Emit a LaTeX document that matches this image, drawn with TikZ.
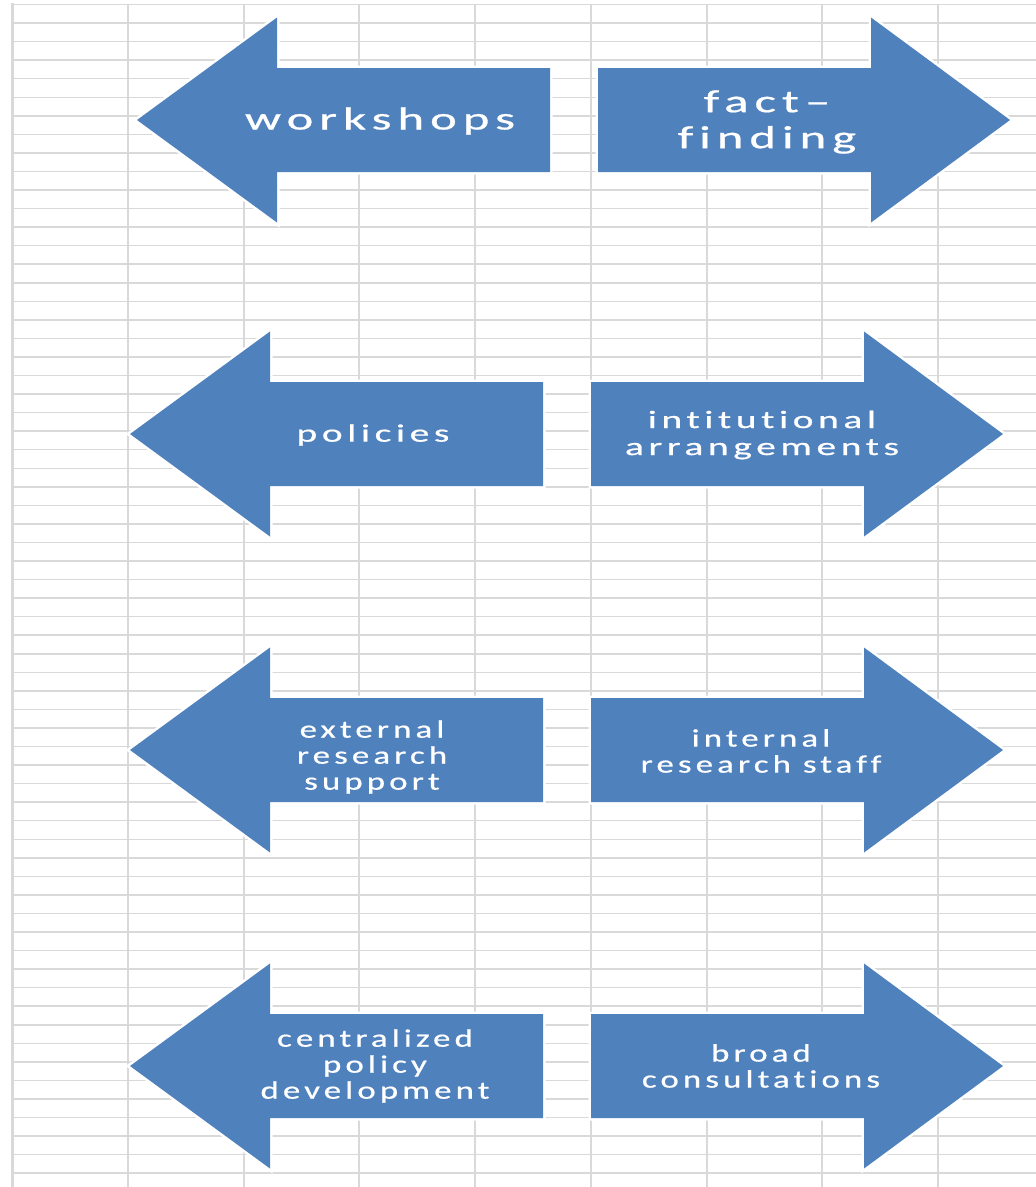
\documentclass[tikz,border=0pt]{standalone}
\usepackage{fontspec}
\newfontfamily\arrowfont[LetterSpace=12,FakeBold=0.6,Ligatures={NoCommon}]{Carlito}
\definecolor{arrowblue}{HTML}{4F81BD}
\definecolor{cellgrey}{HTML}{D9D9D9}

\begin{document}
\begin{tikzpicture}
  [
    x                   = 1pt,
    y                   = -1pt,
    gridline/.style     = {draw=cellgrey, line width=1.5pt},
    arrowbody/.style    = {fill=arrowblue, preaction={draw=white, line width=5pt}},
    label base/.style   = {text=white, align=center, transform shape},
    big label/.style    = {label base, xscale=1.58, font=\arrowfont\fontsize{32}{36}\selectfont},
    wide label/.style   = {label base, xscale=1.57, font=\arrowfont\fontsize{25}{27}\selectfont},
    narrow label/.style = {label base, xscale=1.39, font=\arrowfont\fontsize{25}{26}\selectfont}
  ]
  \useasboundingbox (0,0) rectangle (1036,1187);
  % spreadsheet cells behind the arrows
  \foreach \k in {0,...,63}
    \draw[gridline] (12,4.5+\k*18.55) -- (1036,4.5+\k*18.55);
  \foreach \j in {1,...,8}
    \draw[gridline, line width=2pt] (12+\j*115.75,4.5) -- (12+\j*115.75,1187);
  \draw[gridline, line width=3pt] (12,3) -- (12,1187);

  % one pair of arrows per row
  \foreach \cy/\dx in {120/7, 434/0, 750/0, 1066/0} {
    \path[arrowbody, xshift=\dx]
      (130,\cy) -- (270,\cy-102.5) -- (270,\cy-52) -- (543,\cy-52)
      -- (543,\cy+52) -- (270,\cy+52) -- (270,\cy+102.5) -- cycle;
    \path[arrowbody, xshift=\dx]
      (591,\cy-52) -- (864,\cy-52) -- (864,\cy-102.5) -- (1003,\cy)
      -- (864,\cy+102.5) -- (864,\cy+52) -- (591,\cy+52) -- cycle;
  }

  \node[big label]    (workshops)     at (380,121)  {workshops};
  \node[big label]    (factfinding)   at (767,122)  {fact–\\finding};
  \node[wide label]   (policies)      at (373,435)  {policies};
  \node[wide label]   (arrangements)  at (762,435)  {intitutional\\arrangements};
  \node[narrow label] (external)      at (372,757)  {external\\research\\support};
  \node[narrow label] (internal)      at (761,751)  {internal\\research staff};
  \node[narrow label] (centralized)   at (375,1066) {centralized\\policy\\development};
  \node[narrow label] (consultations) at (761,1066) {broad\\consultations};
\end{tikzpicture}
\end{document}
